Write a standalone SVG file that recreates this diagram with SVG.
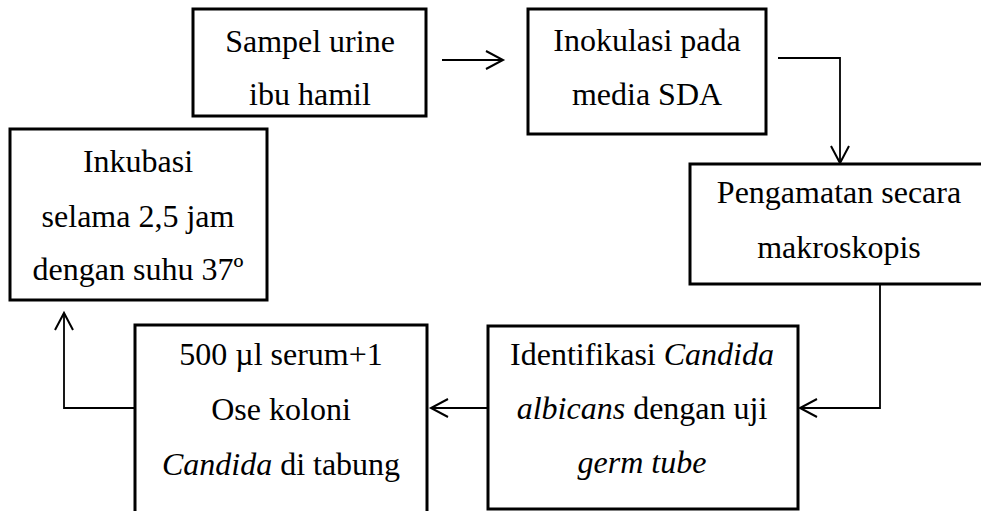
<svg xmlns="http://www.w3.org/2000/svg" width="981" height="511" viewBox="0 0 981 511">
<style>
.box{fill:#fff;stroke:#000;stroke-width:3}
.t{font-family:"Liberation Serif","Times New Roman",serif;font-size:32px;fill:#000;text-anchor:middle}
.i{font-style:italic}
.c{fill:none;stroke:#000;stroke-width:1.8}
</style>
<defs>
<marker id="a" markerUnits="userSpaceOnUse" markerWidth="24" markerHeight="24" refX="18" refY="10" orient="auto" overflow="visible">
<path d="M1,1 L18,10 L1,19" fill="none" stroke="#000" stroke-width="2"/>
</marker>
</defs>
<rect width="981" height="511" fill="#fff"/>
<g id="connectors">
<path class="c" d="M442,60 H503" marker-end="url(#a)"/>
<path class="c" d="M778,58 H840 V163" marker-end="url(#a)"/>
<path class="c" d="M880,285 V408 H800" marker-end="url(#a)"/>
<path class="c" d="M487,408 H431" marker-end="url(#a)"/>
<path class="c" d="M135,408 H64 V313" marker-end="url(#a)"/>
</g>
<g id="sampel">
<rect class="box" x="193" y="9" width="233" height="107"/>
<text class="t" x="310" y="52">Sampel urine</text>
<text class="t" x="310" y="105">ibu hamil</text>
</g>
<g id="inokulasi">
<rect class="box" x="528" y="9" width="238" height="125"/>
<text class="t" x="647" y="51">Inokulasi pada</text>
<text class="t" x="647" y="105">media SDA</text>
</g>
<g id="pengamatan">
<rect class="box" x="690" y="164" width="300" height="120"/>
<text class="t" x="839" y="203">Pengamatan secara</text>
<text class="t" x="839" y="258">makroskopis</text>
</g>
<g id="identifikasi">
<rect class="box" x="488" y="326" width="310" height="183"/>
<text class="t" x="642" y="365">Identifikasi <tspan class="i">Candida</tspan></text>
<text class="t" x="642" y="419"><tspan class="i">albicans</tspan> dengan uji</text>
<text class="t" x="642" y="473"><tspan class="i">germ tube</tspan></text>
</g>
<g id="serum">
<rect class="box" x="135" y="325" width="292" height="190"/>
<text class="t" x="281" y="365">500 µl serum+1</text>
<text class="t" x="281" y="420">Ose koloni</text>
<text class="t" x="281" y="475"><tspan class="i">Candida</tspan> di tabung</text>
</g>
<g id="inkubasi">
<rect class="box" x="10" y="129" width="257" height="171"/>
<text class="t" x="138" y="172">Inkubasi</text>
<text class="t" x="138" y="227">selama 2,5 jam</text>
<text class="t" x="138" y="280">dengan suhu 37º</text>
</g>
</svg>
